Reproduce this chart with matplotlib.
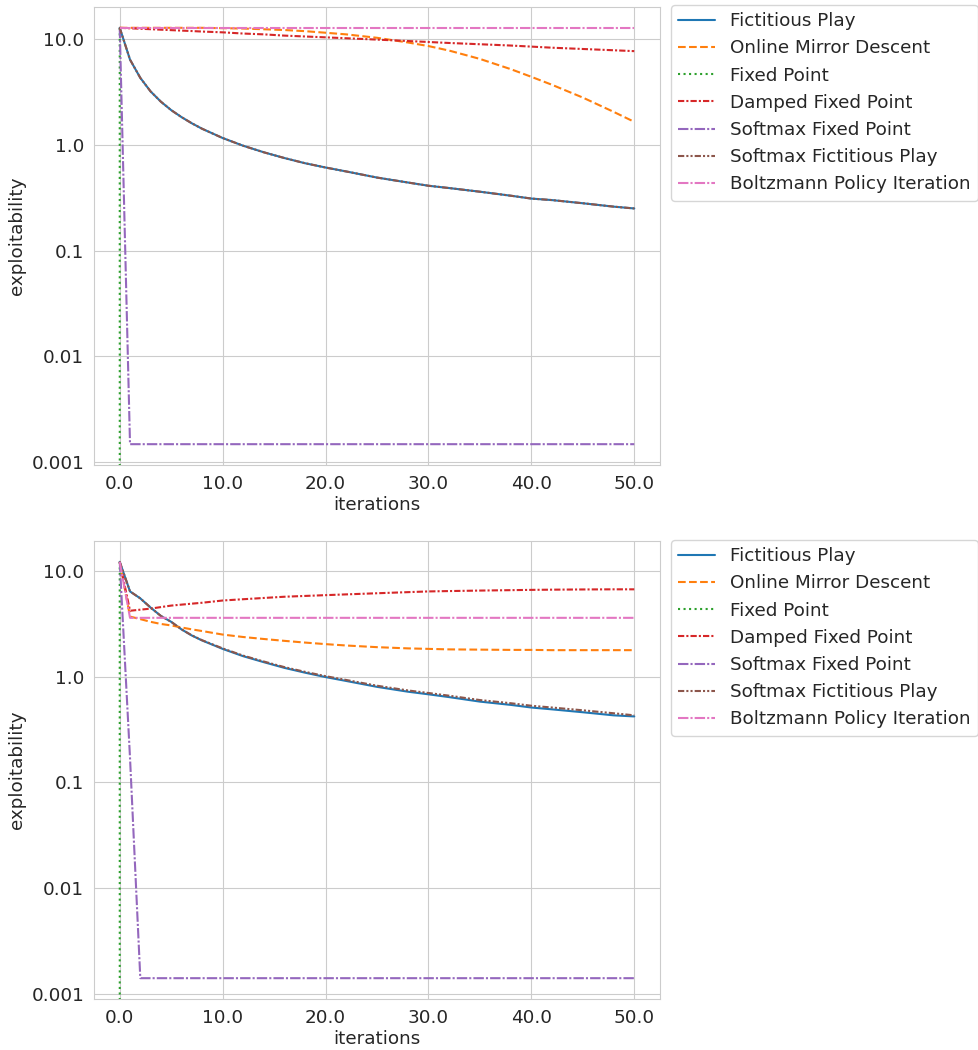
import matplotlib
matplotlib.use('Agg')
import matplotlib.pyplot as plt
import matplotlib.ticker as mticker
import seaborn as sns

sns.set_style('whitegrid')
plt.rcParams['font.family'] = ['DejaVu Sans']

iterations = [0, 1, 2, 3, 4, 5, 6, 7, 8, 10, 12, 14, 16, 18, 20, 22, 25, 28,
              30, 32, 35, 38, 40, 42, 45, 48, 50]

labels = ['Fictitious Play', 'Online Mirror Descent', 'Fixed Point',
          'Damped Fixed Point', 'Softmax Fixed Point', 'Softmax Fictitious Play',
          'Boltzmann Policy Iteration']

# top panel
top_fp = [12.8, 6.4, 4.3, 3.2, 2.56, 2.13, 1.83, 1.6, 1.42, 1.16, 0.98, 0.85,
          0.75, 0.67, 0.61, 0.56, 0.49, 0.44, 0.41, 0.39, 0.36, 0.33, 0.31,
          0.30, 0.28, 0.26, 0.25]
top_omd = [12.8, 12.8, 12.8, 12.8, 12.8, 12.8, 12.8, 12.8, 12.8, 12.7, 12.6,
           12.4, 12.2, 11.9, 11.5, 11.1, 10.3, 9.3, 8.6, 7.8, 6.5, 5.2, 4.4,
           3.7, 2.8, 2.05, 1.65]
top_fixed = [12.8] + [0.0] * 26
top_damped = [12.8, 12.67, 12.54, 12.42, 12.29, 12.17, 12.05, 11.93, 11.8,
              11.6, 11.3, 11.1, 10.8, 10.6, 10.4, 10.2, 9.9, 9.6, 9.4, 9.2,
              8.95, 8.7, 8.5, 8.3, 8.07, 7.85, 7.7]
top_softmax_fixed = [12.8] + [0.00147] * 26
top_softmax_fp = top_fp
top_boltzmann = [12.8] * 27

# bottom panel
bot_fp = [12.2, 6.4, 5.5, 4.5, 3.75, 3.3, 2.8, 2.45, 2.2, 1.83, 1.56, 1.37,
          1.21, 1.09, 0.99, 0.91, 0.8, 0.72, 0.68, 0.64, 0.58, 0.54, 0.51,
          0.49, 0.46, 0.43, 0.42]
bot_omd = [12.2, 3.7, 3.5, 3.3, 3.15, 3.05, 2.92, 2.8, 2.7, 2.5, 2.37, 2.27,
           2.18, 2.1, 2.03, 1.97, 1.9, 1.85, 1.83, 1.81, 1.8, 1.79, 1.79,
           1.78, 1.78, 1.78, 1.78]
bot_fixed = [12.2] + [0.0] * 26
bot_damped = [12.2, 4.2, 4.3, 4.4, 4.55, 4.7, 4.8, 4.9, 5.0, 5.25, 5.4, 5.55,
              5.7, 5.8, 5.9, 6.0, 6.15, 6.3, 6.4, 6.45, 6.52, 6.58, 6.62,
              6.65, 6.68, 6.7, 6.7]
bot_softmax_fixed = [12.2, 0.17] + [0.0014] * 25
bot_softmax_fp = [12.2, 6.4, 5.5, 4.5, 3.75, 3.3, 2.8, 2.46, 2.21, 1.85, 1.58,
                  1.39, 1.23, 1.11, 1.01, 0.93, 0.82, 0.74, 0.7, 0.66, 0.6,
                  0.56, 0.53, 0.51, 0.48, 0.45, 0.43]
bot_boltzmann = [12.2] + [3.6] * 26

colors = ['tab:blue', 'tab:orange', 'tab:green', 'tab:red', 'tab:purple',
          'tab:brown', 'tab:pink']
styles = ['-', '--', ':', (0, (3, 1, 1, 1)), (0, (5, 1, 1, 1)),
          (0, (3, 1, 1, 1, 1, 1)), (0, (5, 1, 1, 1))]

panels = [
    [top_fp, top_omd, top_fixed, top_damped, top_softmax_fixed, top_softmax_fp,
     top_boltzmann],
    [bot_fp, bot_omd, bot_fixed, bot_damped, bot_softmax_fixed, bot_softmax_fp,
     bot_boltzmann],
]

FS = 13.2
fig = plt.figure(figsize=(9.79, 10.5), dpi=100)
ax_top = fig.add_axes([94 / 979, 1 - 465 / 1050, 566 / 979, 458 / 1050])
ax_bot = fig.add_axes([94 / 979, 1 - 999 / 1050, 566 / 979, 458 / 1050])

for ax, series, leg_top in zip([ax_top, ax_bot], panels, [5, 540]):
    for ys, lab, c, ls in zip(series, labels, colors, styles):
        ax.plot(iterations, ys, color=c, linestyle=ls, linewidth=1.5, label=lab)
    ax.set_yscale('log')
    ax.set_xlabel('iterations', fontsize=FS, labelpad=2)
    ax.set_ylabel('exploitability', fontsize=FS)
    ax.xaxis.set_major_formatter(mticker.FormatStrFormatter('%.1f'))
    ax.yaxis.set_major_locator(mticker.LogLocator(base=10))
    ax.yaxis.set_major_formatter(lambda v, _: str(round(v, 6)))
    ax.yaxis.set_minor_formatter(mticker.NullFormatter())
    ax.tick_params(labelsize=FS)
    ax.legend(loc='upper left', bbox_to_anchor=(671 / 979, 1 - leg_top / 1050),
              bbox_transform=fig.transFigure, borderaxespad=0, fontsize=FS)

plt.savefig('out.png', dpi=100)
